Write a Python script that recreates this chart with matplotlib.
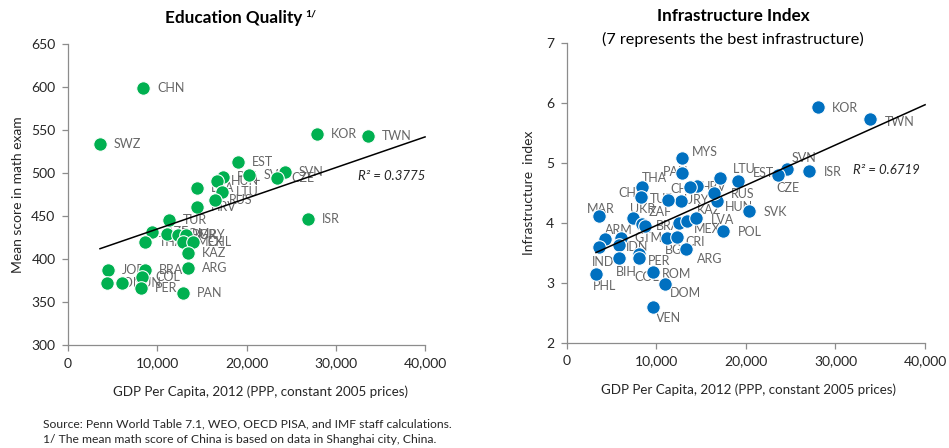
"""Education quality and infrastructure vs GDP per capita, two scatter panels."""

import matplotlib

matplotlib.use("Agg")
import matplotlib.pyplot as plt
import numpy as np
from matplotlib.ticker import FuncFormatter, MultipleLocator

plt.rcParams["font.family"] = ["Lato", "DejaVu Sans"]

# --- left panel: PISA 2012 mean math score ---
edu_countries = [
    "CHN", "SWZ", "KOR", "TWN", "EST", "POL", "SVK", "SVN", "CZE", "HUN",
    "LVA", "LTU", "RUS", "HRV", "ISR", "TUR", "AZE", "ROM", "BGR", "URY",
    "THA", "MEX", "CHL", "KAZ", "ARG", "JOR", "BRA", "COL", "IDN", "TUN",
    "PER", "PAN",
]
edu_gdp = [
    8400, 3580, 27850, 33600, 19070, 17390, 20300, 24300, 23440, 16650,
    14410, 17210, 16460, 14410, 26910, 11340, 9410, 11090, 12320, 13210,
    8620, 12880, 14000, 13470, 13470, 4510, 8620, 8250, 4330, 6010,
    8170, 12910,
]
edu_score = [
    599, 534, 545, 543, 513, 495, 498, 501, 494, 491,
    482, 478, 469, 461, 447, 445, 431, 429, 428, 428,
    420, 420, 420, 407, 389, 387, 387, 379, 372, 372,
    366, 360,
]
# linear trendline as printed on the source chart: (intercept, slope per $)
edu_trend = (399.2, 0.003569)
edu_r2 = 0.3775

# --- right panel: infrastructure index (1-7) ---
infra_countries = [
    "KOR", "TWN", "ISR", "SVN", "CZE", "EST", "LTU", "SVK", "POL", "HUN",
    "RUS", "HRV", "CHL", "URY", "TUR", "PAN", "MYS", "THA", "CHN", "UKR",
    "ZAF", "BRA", "MEX", "KAZ", "LVA", "BGR", "CRI", "ARG", "MAR", "ARM",
    "GTM", "IDN", "IND", "BIH", "PER", "COL", "ROM", "DOM", "VEN", "PHL",
]
infra_gdp = [
    28070, 33870, 27060, 24610, 23610, 19140, 17130, 20370, 17470, 16800,
    16460, 14560, 13780, 12780, 11330, 12890, 12890, 8430, 8310, 7420,
    8430, 8760, 12560, 13450, 14450, 11220, 12330, 13340, 3630, 4300,
    6080, 5860, 3630, 5860, 8090, 8090, 9650, 10990, 9650, 3290,
]
infra_index = [
    5.93, 5.73, 4.87, 4.90, 4.80, 4.70, 4.75, 4.20, 3.87, 4.37,
    4.50, 4.62, 4.60, 4.37, 4.38, 4.83, 5.08, 4.60, 4.43, 4.08,
    3.98, 3.95, 4.00, 4.03, 4.08, 3.75, 3.77, 3.57, 4.12, 3.73,
    3.75, 3.63, 3.60, 3.42, 3.48, 3.42, 3.18, 2.98, 2.60, 3.15,
]
infra_trend = (3.287, 0.0000671)
infra_r2 = 0.6719

# where each infrastructure label sits relative to its point (pixels, right/down)
infra_label_offsets = {
    "KOR": (27, 1), "TWN": (30, 3), "ISR": (24, 1), "SVN": (17, -11),
    "CZE": (10, 13), "EST": (25, -8), "LTU": (24, -9), "SVK": (26, 1),
    "POL": (27, 1), "HUN": (22, 6), "RUS": (29, 1), "HRV": (17, 1),
    "CHL": (-8, 2), "URY": (15, -1), "TUR": (-6, -1), "PAN": (-6, -1),
    "MYS": (23, -6), "THA": (12, -9), "CHN": (-9, -4), "UKR": (10, -9),
    "ZAF": (18, -12), "BRA": (23, 0), "MEX": (28, 6), "KAZ": (22, -11),
    "LVA": (26, 2), "BGR": (10, 12), "CRI": (18, 5), "ARG": (24, 10),
    "MAR": (2, -7), "ARM": (14, -9), "GTM": (27, 0), "IDN": (18, 2),
    "IND": (4, 15), "BIH": (7, 14), "PER": (20, 7), "COL": (8, 19),
    "ROM": (24, 2), "DOM": (20, 9), "VEN": (15, 11), "PHL": (9, 12),
}

GREEN = "#00B050"
BLUE = "#0070C0"
AXIS_GRAY = "#8C8C8C"
LABEL_GRAY = "#666666"
TEXT = "#262626"
X_MAX = 40000


def style_axes(ax, xlabel_x):
    for side in ("top", "right"):
        ax.spines[side].set_visible(False)
    for side in ("left", "bottom"):
        ax.spines[side].set_color(AXIS_GRAY)
        ax.spines[side].set_linewidth(0.9)
    ax.tick_params(direction="out", length=4, width=0.9, color=AXIS_GRAY,
                   labelsize=10, labelcolor=TEXT, pad=5)
    ax.set_xlim(0, X_MAX)
    ax.xaxis.set_major_locator(MultipleLocator(10000))
    ax.xaxis.set_major_formatter(FuncFormatter(lambda v, _: f"{v:,.0f}"))
    ax.set_xlabel("GDP Per Capita, 2012 (PPP, constant 2005 prices)",
                  fontsize=9.6, color=TEXT, va="center")
    ax.xaxis.set_label_coords(xlabel_x, -0.155)


def add_trend(ax, x, trend, r2, r2_pos):
    intercept, slope = trend
    xs = np.array([min(x), X_MAX])
    ax.plot(xs, intercept + slope * xs, color="black", linewidth=1.1,
            zorder=4, clip_on=False)
    ax.text(*r2_pos, f"R² = {r2:.4f}", transform=ax.transAxes,
            fontsize=9.5, style="italic", color=TEXT, ha="center",
            va="center")


fig = plt.figure(figsize=(9.49, 4.48), dpi=100)

# left panel
ax1 = fig.add_axes([0.0717, 0.2299, 0.3762, 0.6719])
style_axes(ax1, 0.538)
ax1.set_ylim(300, 650)
ax1.yaxis.set_major_locator(MultipleLocator(50))
ax1.scatter(edu_gdp, edu_score, s=95, color=GREEN, edgecolors="white",
            linewidths=0.8, zorder=3)
for name, gx, gy in zip(edu_countries, edu_gdp, edu_score):
    ax1.annotate(name, (gx, gy), xytext=(14, 0), textcoords="offset pixels",
                 fontsize=9, color=LABEL_GRAY, ha="left", va="center",
                 zorder=2)
add_trend(ax1, edu_gdp, edu_trend, edu_r2, (0.905, 0.56))
ax1.set_ylabel("Mean score in math exam", fontsize=10, color=TEXT)
ax1.yaxis.set_label_coords(-0.123, 0.5)

# right panel
ax2 = fig.add_axes([0.597, 0.2344, 0.3778, 0.6696])
style_axes(ax2, 0.508)
ax2.set_ylim(2, 7)
ax2.yaxis.set_major_locator(MultipleLocator(1))
ax2.scatter(infra_gdp, infra_index, s=95, color=BLUE, edgecolors="white",
            linewidths=0.8, zorder=3)
for name, gx, gy in zip(infra_countries, infra_gdp, infra_index):
    dx, dy = infra_label_offsets[name]
    ax2.annotate(name, (gx, gy), xytext=(dx, -dy), textcoords="offset pixels",
                 fontsize=9, color=LABEL_GRAY, ha="center", va="center",
                 zorder=2)
add_trend(ax2, infra_gdp, infra_trend, infra_r2, (0.891, 0.577))
ax2.set_ylabel("Infrastructure  index", fontsize=10, color=TEXT)
ax2.yaxis.set_label_coords(-0.088, 0.5)

# titles
fig.text(234 / 949, 1 - 18 / 448, "Education Quality", fontsize=12.3,
         fontweight="bold", color="black", ha="center", va="center")
fig.text(305 / 949, 1 - 14 / 448, "1/", fontsize=7.5, fontweight="bold",
         color="black", ha="left", va="center")
fig.text(733 / 949, 1 - 16 / 448, "Infrastructure Index", fontsize=12.3,
         fontweight="bold", color="black", ha="center", va="center")
fig.text(733 / 949, 1 - 39 / 448, "(7 represents the best infrastructure)",
         fontsize=11.7, color="black", ha="center", va="center")

# footnotes
fig.text(43 / 949, 1 - 424 / 448,
         "Source: Penn World Table 7.1, WEO, OECD PISA, and IMF staff calculations.",
         fontsize=8.7, color=TEXT, ha="left", va="center")
fig.text(43 / 949, 1 - 439 / 448,
         "1/ The mean math score of China is based on data in Shanghai city, China.",
         fontsize=8.7, color=TEXT, ha="left", va="center")

fig.savefig("out.png", dpi=100)
